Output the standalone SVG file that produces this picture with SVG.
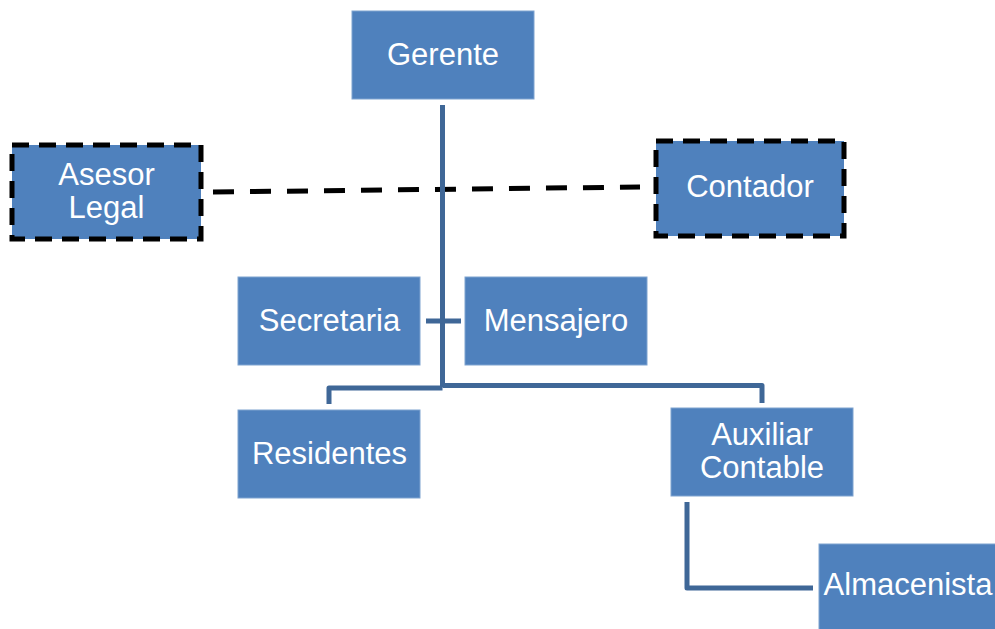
<svg xmlns="http://www.w3.org/2000/svg" width="995" height="629" viewBox="0 0 995 629">
<style>
.box{fill:#4F81BD;stroke:#7FA3D0;stroke-width:1}
.dbox{fill:#4F81BD;stroke:#000;stroke-width:5;stroke-dasharray:17 10}
.lbl{font-family:"Liberation Sans",Arial,sans-serif;font-size:31px;fill:#fff;text-anchor:middle}
.con{fill:none;stroke:#3F6797;stroke-width:5;stroke-linejoin:round}
.dash{fill:none;stroke:#000;stroke-width:5;stroke-dasharray:21 16}
</style>
<rect width="995" height="629" fill="#fff"/>
<g id="connectors">
<line class="dash" x1="213" y1="192" x2="640" y2="187"/>
<path class="con" d="M442.5,105 V387"/>
<path class="con" d="M442.5,388 H329 V404"/>
<path class="con" d="M442.5,385.5 H762 V403"/>
<path class="con" d="M426,321 H461"/>
<path class="con" d="M687,502 V588 H813"/>
</g>
<g id="gerente"><rect class="box" x="352" y="11" width="182" height="88"/><text class="lbl" x="443" y="65">Gerente</text></g>
<g id="asesor"><rect class="dbox" x="12" y="145" width="189" height="94"/><text class="lbl" x="106.5" y="185">Asesor</text><text class="lbl" x="106.5" y="218">Legal</text></g>
<g id="contador"><rect class="dbox" x="656" y="141" width="188" height="95"/><text class="lbl" x="750" y="197">Contador</text></g>
<g id="secretaria"><rect class="box" x="238" y="277" width="182" height="88"/><text class="lbl" x="329.5" y="331">Secretaria</text></g>
<g id="mensajero"><rect class="box" x="465" y="277" width="182" height="88"/><text class="lbl" x="556" y="331">Mensajero</text></g>
<g id="residentes"><rect class="box" x="238" y="410" width="182" height="88"/><text class="lbl" x="329.5" y="464">Residentes</text></g>
<g id="auxiliar"><rect class="box" x="671" y="408" width="182" height="88"/><text class="lbl" x="762" y="445">Auxiliar</text><text class="lbl" x="762" y="478">Contable</text></g>
<g id="almacenista"><rect class="box" x="819" y="544" width="182" height="88"/><text class="lbl" x="908" y="595">Almacenista</text></g>
</svg>
